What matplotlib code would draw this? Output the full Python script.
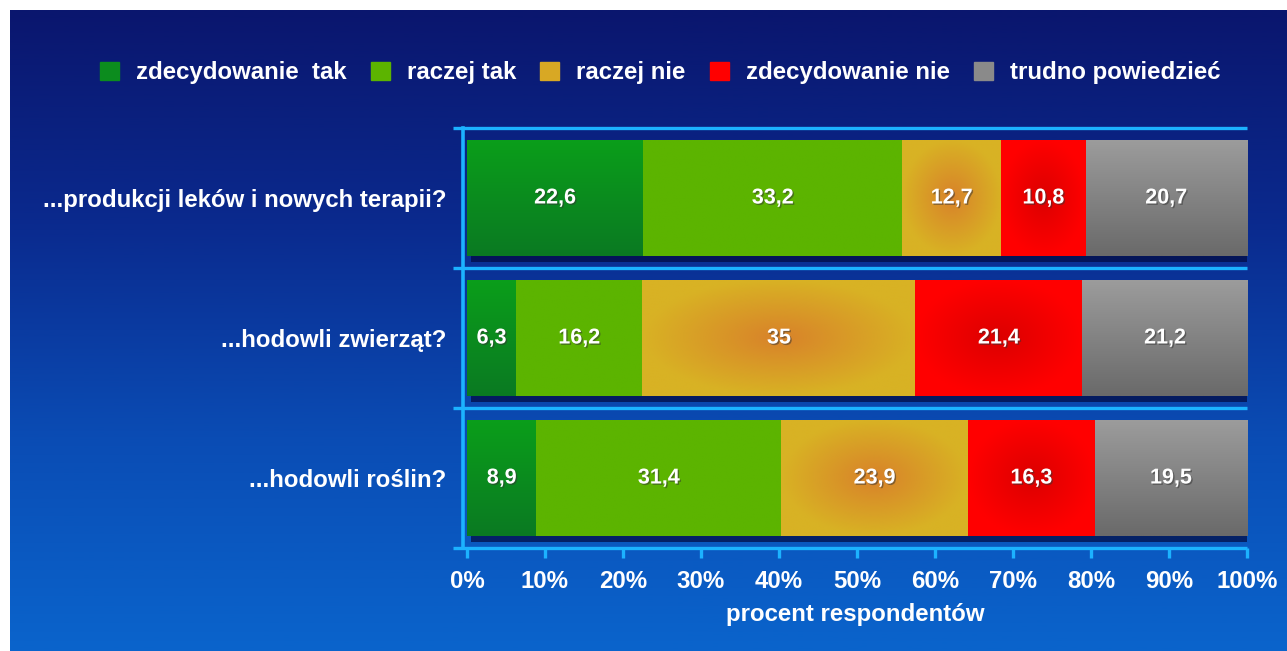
import numpy as np
import matplotlib
matplotlib.use('Agg')
import matplotlib.pyplot as plt
import matplotlib.patches as mpatches
import matplotlib.patheffects as pe
from matplotlib.colors import LinearSegmentedColormap, to_rgb

plt.rcParams['font.family'] = ['Liberation Sans', 'DejaVu Sans']
plt.rcParams['font.weight'] = 'bold'

# Survey data (percent of respondents)
questions = ['...produkcji leków i nowych terapii?', '...hodowli zwierząt?', '...hodowli roślin?']
answers = ['zdecydowanie  tak', 'raczej tak', 'raczej nie', 'zdecydowanie nie', 'trudno powiedzieć']
zdecydowanie_tak = [22.6, 6.3, 8.9]
raczej_tak = [33.2, 16.2, 31.4]
raczej_nie = [12.7, 35.0, 23.9]
zdecydowanie_nie = [10.8, 21.4, 16.3]
trudno_powiedziec = [20.7, 21.2, 19.5]
x_ticks = [0, 10, 20, 30, 40, 50, 60, 70, 80, 90, 100]

series = [zdecydowanie_tak, raczej_tak, raczej_nie, zdecydowanie_nie, trudno_powiedziec]

# fill style per answer: (kind, edge/top colour, centre/bottom colour)
STYLES = [
    ('vertical', '#0b9e1a', '#0a7a22'),
    ('flat', '#5cb400', '#5cb400'),
    ('radial', '#d8b224', '#d8822a'),
    ('radial', '#ff0000', '#dc0000'),
    ('vertical', '#9c9c9c', '#6a6a6a'),
]
LEGEND_COLORS = ['#0c8c1e', '#5cb400', '#d8a824', '#ff0000', '#8a8a8a']
LINE_COLOR = '#1cb2ff'
FS = 17.3


def gradient_array(kind, c1, c2, n=60, m=120):
    c1 = np.array(to_rgb(c1))
    c2 = np.array(to_rgb(c2))
    if kind == 'vertical':
        t = np.linspace(0, 1, n)[:, None] * np.ones((1, m))
    elif kind == 'radial':
        yy, xx = np.mgrid[-1:1:n * 1j, -1:1:m * 1j]
        t = 1 - np.clip(np.sqrt(xx ** 2 + yy ** 2), 0, 1)
    else:
        t = np.zeros((n, m))
    return c1[None, None, :] * (1 - t[..., None]) + c2[None, None, :] * t[..., None]


fig = plt.figure(figsize=(12.87, 6.51), dpi=100)
fig.patch.set_facecolor('white')

# background gradient panel
bg = fig.add_axes([10 / 1287, 0, 1277 / 1287, 641 / 651])
bg_cmap = LinearSegmentedColormap.from_list('bg', ['#0a166e', '#0a2a8e', '#0a4cb4', '#0a64cc'])
bg.imshow(np.linspace(0, 1, 256)[:, None], aspect='auto', cmap=bg_cmap, extent=(0, 1, 0, 1))
bg.set_axis_off()

ax = fig.add_axes([463 / 1287, 103 / 651, 784 / 1287, 420 / 651])
ax.set_facecolor('none')

y = np.arange(len(questions))
bar_h = 0.835
left = np.zeros(len(questions))
shadow = [pe.SimplePatchShadow(offset=(3, -4), shadow_rgbFace='#020a40', alpha=0.7), pe.Normal()]
for vals, (kind, c1, c2) in zip(series, STYLES):
    bars = ax.barh(y, vals, left=left, height=bar_h, color=c1, edgecolor='none', zorder=3)
    for b, v in zip(bars, vals):
        b.set_path_effects(shadow)
        x0, y0 = b.get_x(), b.get_y()
        w, h = b.get_width(), b.get_height()
        img = ax.imshow(gradient_array(kind, c1, c2), extent=(x0, x0 + w, y0 + h, y0),
                        aspect='auto', origin='upper', zorder=4, interpolation='bilinear')
        img.set_clip_path(b)
        txt = f'{v:g}'.replace('.', ',')
        ax.text(x0 + w / 2, y0 + h / 2, txt, ha='center', va='center', color='white',
                fontsize=15.5, fontweight='bold', zorder=6,
                path_effects=[pe.withSimplePatchShadow(offset=(1, -1), shadow_rgbFace='#333333', alpha=0.5)])
    left = left + np.array(vals)

ax.set_xlim(-0.5, 100)
ax.set_ylim(len(questions) - 0.5, -0.5)

# separators between rows
for b in np.arange(-0.5, len(questions), 1.0):
    ax.plot([-1.8, 100], [b, b], color=LINE_COLOR, lw=2.4, zorder=2, clip_on=False,
            solid_capstyle='butt')

for s in ['top', 'right', 'bottom']:
    ax.spines[s].set_visible(False)
ax.spines['left'].set_color(LINE_COLOR)
ax.spines['left'].set_linewidth(2.6)
ax.spines['left'].set_zorder(5)

ax.set_xticks(x_ticks)
ax.set_xticklabels([f'{t}%' for t in x_ticks])
ax.tick_params(axis='x', colors=LINE_COLOR, length=7, width=2.4, direction='out', pad=9,
               labelcolor='white', labelsize=FS)
ax.set_yticks(y)
ax.set_yticklabels(questions)
ax.tick_params(axis='y', length=0, pad=12, labelcolor='white', labelsize=FS)
ax.set_xlabel('procent respondentów', color='white', fontsize=FS, fontweight='bold', labelpad=7)

handles = [mpatches.Patch(color=c, label=l) for c, l in zip(LEGEND_COLORS, answers)]
leg = fig.legend(handles=handles, loc='center', bbox_to_anchor=(0.513, 0.888), ncol=5,
                 frameon=False, fontsize=FS, handlelength=0.8, handleheight=0.8,
                 handletextpad=0.7, columnspacing=1.0)
for t in leg.get_texts():
    t.set_color('white')
    t.set_fontweight('bold')

fig.savefig('out.png', dpi=100)
